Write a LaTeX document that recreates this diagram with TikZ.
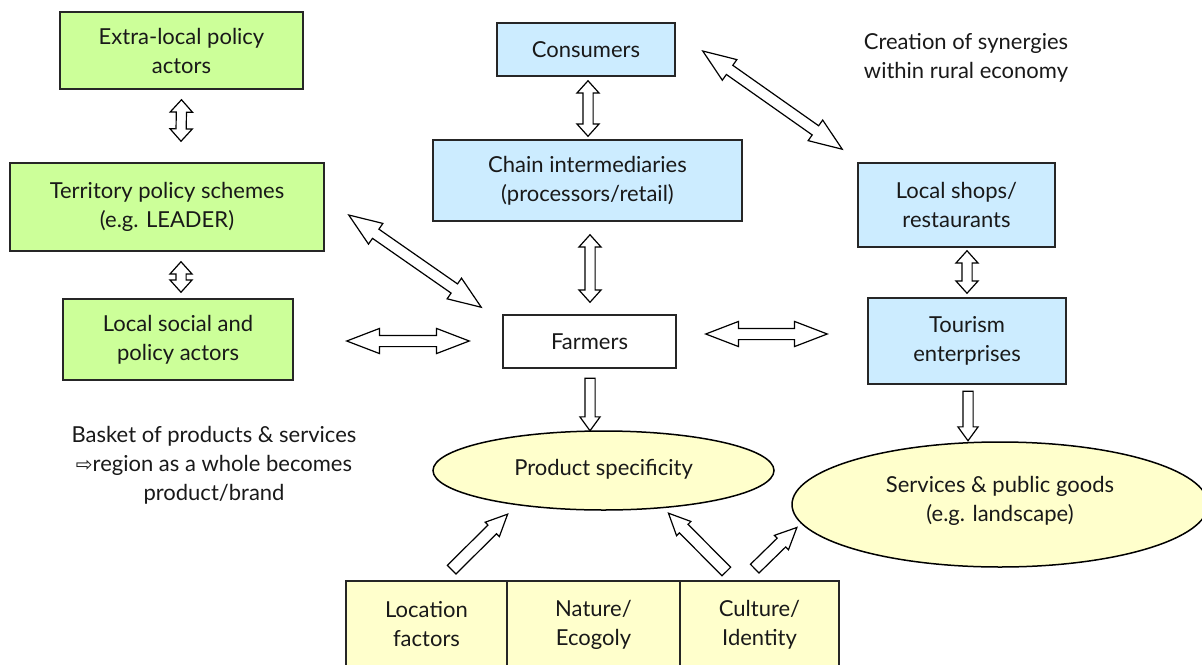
\documentclass[tikz,border=0pt]{standalone}
\usepackage{fontspec}
\setmainfont{Lato}
\newfontfamily\symfont{DejaVu Sans}
\usetikzlibrary{shapes.geometric,shapes.arrows,calc}
\definecolor{lightgreen}{RGB}{204,255,153}
\definecolor{lightblue}{RGB}{204,236,255}
\definecolor{lightyellow}{RGB}{255,255,204}

% block arrow laid between two points
\newcommand{\BlockArrow}[3][twoway]{%
  \path let \p1=($#3-#2$), \n1={veclen(\x1,\y1)} in #2 -- #3
    node[#1, midway, sloped, allow upside down, minimum height=\n1] {};}

\begin{document}
\begin{tikzpicture}[x=1pt,y=-1pt,
    every node/.style={font=\fontsize{22}{29}\selectfont,text=black!90},
    greenbox/.style={draw=black!85,line width=1.5pt,fill=lightgreen,align=center,inner sep=0pt},
    bluebox/.style={greenbox,fill=lightblue},
    yellowbox/.style={greenbox,fill=lightyellow},
    oval/.style={ellipse,draw=black,line width=1.5pt,fill=lightyellow,align=center,inner sep=0pt},
    twoway/.style={double arrow,draw=black,line width=1.2pt,fill=white,inner xsep=0pt,inner ysep=4.5pt,
      minimum width=0pt,double arrow head extend=6pt,double arrow tip angle=84},
    widearrow/.style={twoway,inner ysep=5pt,double arrow head extend=7pt,double arrow tip angle=42},
    oneway/.style={single arrow,draw=black,line width=1.2pt,fill=white,inner xsep=0pt,inner ysep=4.5pt,
      minimum width=0pt,single arrow head extend=5pt,single arrow tip angle=72},
    tiltarrow/.style={oneway,inner ysep=5.5pt,single arrow head extend=4pt,single arrow tip angle=50}]
  \useasboundingbox (0,0) rectangle (1202,664);
  \clip (0,0) rectangle (1202,664);

  \coordinate (ext_c) at (181.5,50.5);
  \coordinate (terr_c) at (167,207);
  \coordinate (loc_c) at (178,339.5);
  \coordinate (cons_c) at (586,49.5);
  \coordinate (chain_c) at (587.5,180.5);
  \coordinate (farm_c) at (589.5,341.5);
  \coordinate (shop_c) at (956.5,205);
  \coordinate (tour_c) at (967,341);
  \coordinate (prod_c) at (603.5,470.5);
  \coordinate (serv_c) at (1000,504.5);

  % policy side
  \node[greenbox,minimum width=243,minimum height=77] (ext) at (ext_c) {Extra-local policy\\actors};
  \node[greenbox,minimum width=314,minimum height=88] (terr) at (terr_c) {Territory policy schemes\\(e.g. LEADER)};
  \node[greenbox,minimum width=230,minimum height=81] (loc) at (loc_c) {Local social and\\policy actors};

  % chain and rural economy
  \node[bluebox,minimum width=178,minimum height=53] (cons) at (cons_c) {Consumers};
  \node[bluebox,minimum width=309,minimum height=81] (chain) at (chain_c) {Chain intermediaries\\(processors/retail)};
  \node[greenbox,fill=white,minimum width=173,minimum height=53] (farm) at (farm_c) {Farmers};
  \node[bluebox,minimum width=197,minimum height=84] (shop) at (shop_c) {Local shops/\\restaurants};
  \node[bluebox,minimum width=198,minimum height=86] (tour) at (tour_c) {Tourism\\enterprises};

  \node[oval,minimum width=341,minimum height=79] (prod) at (prod_c) {Product specificity\\[-23pt]};
  \node[oval,minimum width=416,minimum height=125] (serv) at (serv_c) {Services \& public goods\\(e.g. landscape)\\[-17pt]};

  % resources
  \node[yellowbox,minimum width=161,minimum height=87] (locf) at (426.5,624.5) {Location\\factors};
  \node[yellowbox,minimum width=173,minimum height=87] (nat) at (593.5,624.5) {Nature/\\Ecogoly};
  \node[yellowbox,minimum width=159,minimum height=87] (cult) at (759.5,624.5) {Culture/\\Identity};

  \node[align=center] (syn) at (966,57.5) {Creation of synergies\\within rural economy};
  \node[align=center] (basket) at (214,465) {Basket of products \& services\\{\symfont\fontsize{20}{29}\selectfont ⇨}region as a whole becomes\\product/brand};

  % arrows
  \BlockArrow{([shift={(0,10)}]ext.south)}{([shift={(14,-21)}]terr.north)}
  \BlockArrow{([shift={(14,10)}]terr.south)}{([shift={(3,-6)}]loc.north)}
  \BlockArrow{([shift={(2,4)}]cons.south)}{([shift={(0.5,-3)}]chain.north)}
  \BlockArrow{([shift={(2.5,13)}]chain.south)}{([shift={(0.5,-12)}]farm.north)}
  \BlockArrow{([shift={(10.5,3)}]shop.south)}{([shift={(0,-4)}]tour.north)}
  \BlockArrow[widearrow]{([shift={(53,1.5)}]loc.east)}{([shift={(-33,-0.5)}]farm.west)}
  \BlockArrow[widearrow]{([shift={(29,-7.5)}]farm.east)}{([shift={(-40,-7)}]tour.west)}
  \BlockArrow[widearrow]{([shift={(24,8)}]terr.east)}{([shift={(-21,-7)}]farm.north west)}
  \BlockArrow[widearrow]{([shift={(27,1.5)}]cons.east)}{([shift={(-15,-13)}]shop.north west)}
  \BlockArrow[oneway]{([shift={(0.5,6)}]farm.south)}{([shift={(-13.5,-3)}]prod.north)}
  \BlockArrow[oneway]{([shift={(1,3)}]tour.south)}{([shift={(-32,-4)}]serv.north)}
  \BlockArrow[tiltarrow]{([shift={(20.5,-6)}]locf.north)}{([shift={(-100.5,8)}]prod.south)}
  \BlockArrow[tiltarrow]{([shift={(-28.5,-4)}]cult.north)}{([shift={(69.5,7)}]prod.south)}
  \BlockArrow[tiltarrow]{([shift={(-9.5,-7)}]cult.north)}{([shift={(1,27.5)}]serv.west)}
\end{tikzpicture}
\end{document}
